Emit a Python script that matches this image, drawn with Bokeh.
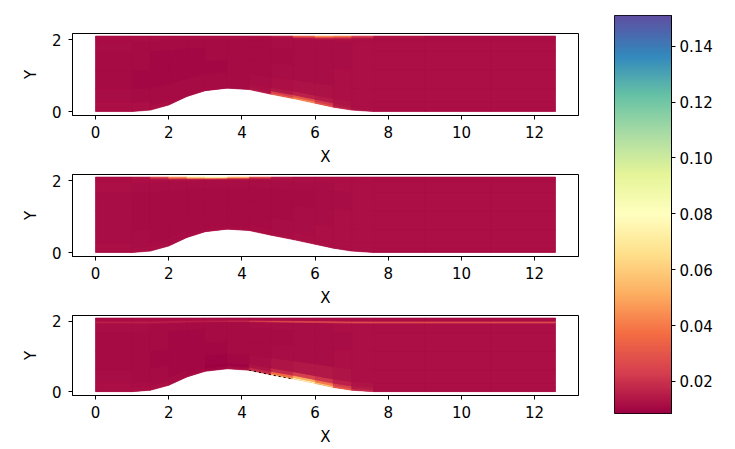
import numpy as np
from bokeh.plotting import figure
from bokeh.layouts import row, column
from bokeh.models import ColumnDataSource, LinearColorMapper, FixedTicker, PrintfTickFormatter, Range1d
from bokeh.embed import file_html
from bokeh.resources import INLINE

# ---------------- data ----------------
hill_x = [0.0, 1.0, 1.5, 2.0, 2.5, 3.0, 3.6, 4.2, 4.8, 5.4, 6.0, 6.5, 7.0, 7.6, 9.0, 10.8, 12.57]
hill_y = [0.0, 0.0, 0.04, 0.18, 0.42, 0.58, 0.65, 0.61, 0.48, 0.36, 0.23, 0.12, 0.04, 0.0, 0.0, 0.0, 0.0]
y_top = 2.1
eta = [0.0, 0.025, 0.06, 0.12, 0.3, 0.55, 0.8, 0.93, 0.955, 0.975, 0.99, 1.0]

x_ticks = [0, 2, 4, 6, 8, 10, 12]
y_ticks = [0, 2]
cb_ticks = [0.02, 0.04, 0.06, 0.08, 0.10, 0.12, 0.14]
v_min, v_max = 0.0085, 0.151
base_values = [0.0115, 0.0115, 0.0115]

# rows: bottom (at hill) -> top wall ; columns: between consecutive hill_x stations
field_a = [
    [0.012, 0.012, 0.012, 0.012, 0.012, 0.011, 0.011, 0.015, 0.034, 0.044, 0.030, 0.017, 0.013, 0.012, 0.012, 0.012],
    [0.012, 0.012, 0.012, 0.011, 0.011, 0.011, 0.011, 0.013, 0.024, 0.030, 0.022, 0.014, 0.012, 0.012, 0.012, 0.012],
    [0.012, 0.012, 0.011, 0.011, 0.011, 0.011, 0.011, 0.012, 0.014, 0.016, 0.015, 0.013, 0.012, 0.012, 0.012, 0.012],
    [0.0115, 0.011, 0.011, 0.011, 0.011, 0.011, 0.011, 0.0115, 0.012, 0.0125, 0.0125, 0.012, 0.012, 0.012, 0.012, 0.012],
    [0.011, 0.0105, 0.0105, 0.0105, 0.0105, 0.0105, 0.011, 0.011, 0.0115, 0.0115, 0.0115, 0.012, 0.012, 0.012, 0.012, 0.012],
    [0.011, 0.011, 0.0105, 0.0105, 0.0105, 0.011, 0.011, 0.011, 0.011, 0.0115, 0.0115, 0.0115, 0.012, 0.012, 0.012, 0.012],
    [0.0115, 0.011, 0.011, 0.011, 0.011, 0.011, 0.011, 0.011, 0.0115, 0.0115, 0.0115, 0.0115, 0.012, 0.012, 0.012, 0.012],
    [0.0115, 0.0115, 0.0115, 0.0115, 0.0115, 0.0115, 0.0115, 0.0115, 0.012, 0.012, 0.012, 0.012, 0.012, 0.012, 0.012, 0.012],
    [0.012, 0.012, 0.012, 0.012, 0.012, 0.012, 0.012, 0.012, 0.012, 0.014, 0.016, 0.015, 0.013, 0.012, 0.012, 0.012],
    [0.012, 0.012, 0.012, 0.012, 0.012, 0.012, 0.012, 0.012, 0.014, 0.022, 0.030, 0.027, 0.018, 0.013, 0.012, 0.012],
    [0.012, 0.012, 0.012, 0.012, 0.012, 0.012, 0.012, 0.013, 0.016, 0.032, 0.046, 0.040, 0.024, 0.014, 0.012, 0.012],
]
field_b = [
    [0.012, 0.012, 0.012, 0.012, 0.012, 0.012, 0.012, 0.012, 0.0125, 0.013, 0.0125, 0.012, 0.012, 0.012, 0.012, 0.012],
    [0.012, 0.012, 0.012, 0.0115, 0.0115, 0.0115, 0.0115, 0.012, 0.012, 0.012, 0.012, 0.012, 0.012, 0.012, 0.012, 0.012],
    [0.012, 0.0115, 0.0115, 0.0115, 0.011, 0.011, 0.011, 0.0115, 0.0115, 0.012, 0.012, 0.012, 0.012, 0.012, 0.012, 0.012],
    [0.0115, 0.0115, 0.011, 0.011, 0.011, 0.011, 0.011, 0.011, 0.0115, 0.0115, 0.012, 0.012, 0.012, 0.012, 0.012, 0.012],
    [0.0115, 0.011, 0.011, 0.011, 0.011, 0.011, 0.011, 0.011, 0.011, 0.0115, 0.0115, 0.012, 0.012, 0.012, 0.012, 0.012],
    [0.0115, 0.011, 0.011, 0.011, 0.011, 0.011, 0.011, 0.011, 0.011, 0.011, 0.0115, 0.0115, 0.012, 0.012, 0.012, 0.012],
    [0.012, 0.0115, 0.0115, 0.0115, 0.0115, 0.0115, 0.0115, 0.0115, 0.0115, 0.0115, 0.0115, 0.012, 0.012, 0.012, 0.012, 0.012],
    [0.012, 0.012, 0.012, 0.012, 0.012, 0.012, 0.012, 0.012, 0.012, 0.012, 0.012, 0.012, 0.012, 0.012, 0.012, 0.012],
    [0.012, 0.012, 0.0125, 0.014, 0.016, 0.017, 0.015, 0.013, 0.012, 0.012, 0.012, 0.012, 0.012, 0.012, 0.012, 0.012],
    [0.012, 0.013, 0.018, 0.030, 0.042, 0.046, 0.034, 0.019, 0.013, 0.012, 0.012, 0.012, 0.012, 0.012, 0.012, 0.012],
    [0.012, 0.014, 0.026, 0.045, 0.066, 0.075, 0.054, 0.028, 0.015, 0.012, 0.012, 0.012, 0.012, 0.012, 0.012, 0.012],
]
field_c = [
    [0.012, 0.012, 0.012, 0.012, 0.012, 0.011, 0.013, 0.024, 0.050, 0.075, 0.058, 0.032, 0.018, 0.012, 0.012, 0.012],
    [0.012, 0.012, 0.012, 0.011, 0.011, 0.010, 0.011, 0.018, 0.036, 0.052, 0.040, 0.024, 0.015, 0.012, 0.012, 0.012],
    [0.012, 0.0115, 0.011, 0.011, 0.0105, 0.009, 0.0095, 0.013, 0.019, 0.024, 0.021, 0.016, 0.013, 0.012, 0.012, 0.012],
    [0.0115, 0.011, 0.011, 0.0105, 0.0105, 0.0095, 0.0105, 0.0115, 0.013, 0.014, 0.014, 0.013, 0.012, 0.012, 0.012, 0.012],
    [0.011, 0.011, 0.0105, 0.0105, 0.0105, 0.0105, 0.011, 0.011, 0.0115, 0.0115, 0.0115, 0.012, 0.012, 0.012, 0.012, 0.012],
    [0.011, 0.011, 0.011, 0.0105, 0.0105, 0.011, 0.011, 0.011, 0.011, 0.0115, 0.0115, 0.0115, 0.012, 0.012, 0.012, 0.012],
    [0.0115, 0.0115, 0.011, 0.011, 0.011, 0.011, 0.011, 0.0115, 0.0115, 0.0115, 0.0115, 0.012, 0.012, 0.012, 0.012, 0.012],
    [0.016, 0.016, 0.016, 0.016, 0.016, 0.017, 0.019, 0.024, 0.026, 0.027, 0.027, 0.027, 0.027, 0.027, 0.027, 0.027],
    [0.012, 0.012, 0.012, 0.012, 0.012, 0.012, 0.012, 0.012, 0.012, 0.012, 0.012, 0.012, 0.012, 0.012, 0.012, 0.012],
    [0.0115, 0.0115, 0.0115, 0.0115, 0.0115, 0.0115, 0.0115, 0.0115, 0.0115, 0.0115, 0.0115, 0.0115, 0.0115, 0.0115, 0.0115, 0.0115],
    [0.011, 0.011, 0.011, 0.011, 0.011, 0.011, 0.011, 0.011, 0.011, 0.011, 0.011, 0.011, 0.011, 0.011, 0.011, 0.011],
]

spectral = ["#9e0142", "#d53e4f", "#f46d43", "#fdae61", "#fee08b", "#ffffbf",
            "#e6f598", "#abdda4", "#66c2a5", "#3288bd", "#5e4fa2"]

# ---------------- palette ----------------
def hex2rgb(h):
    h = h.lstrip("#")
    return [int(h[k:k + 2], 16) for k in (0, 2, 4)]

rgb = np.array([hex2rgb(c) for c in spectral], dtype=float)
stops = np.linspace(0, 1, len(spectral))
tt = np.linspace(0, 1, 256)
palette = ["#%02x%02x%02x" % tuple(int(round(np.interp(t, stops, rgb[:, k]))) for k in range(3)) for t in tt]
mapper = LinearColorMapper(palette=palette, low=v_min, high=v_max)
cmap = {"field": "v", "transform": mapper}

FONT = "DejaVu Sans"
FS = "15px"


def cells(field):
    xs, ys, vs = [], [], []
    for j in range(len(eta) - 1):
        for i in range(len(hill_x) - 1):
            x0, x1 = hill_x[i], hill_x[i + 1]
            b0, b1 = hill_y[i], hill_y[i + 1]
            ya0 = b0 + eta[j] * (y_top - b0)
            ya1 = b1 + eta[j] * (y_top - b1)
            yb0 = b0 + eta[j + 1] * (y_top - b0)
            yb1 = b1 + eta[j + 1] * (y_top - b1)
            xs.append([x0, x1, x1, x0])
            ys.append([ya0, ya1, yb1, yb0])
            vs.append(field[j][i])
    return ColumnDataSource(dict(xs=xs, ys=ys, v=vs))


def domain(base):
    xs = list(hill_x) + list(reversed(hill_x))
    ys = list(hill_y) + [y_top] * len(hill_x)
    return ColumnDataSource(dict(xs=[xs], ys=[ys], v=[base]))


def style_axis(ax, s1, s2, label):
    ax.axis_label = label
    ax.axis_label_text_font = FONT
    ax.axis_label_text_font_size = FS
    ax.axis_label_text_font_style = "normal"
    ax.axis_label_text_color = "black"
    ax.axis_label_standoff = s2
    ax.major_label_text_font = FONT
    ax.major_label_text_font_size = FS
    ax.major_label_text_color = "black"
    ax.major_label_standoff = s1
    ax.major_tick_in = 0
    ax.major_tick_out = 4
    ax.minor_tick_line_color = None
    ax.axis_line_color = "black"
    ax.major_tick_line_color = "black"


def panel(field, base, h, top, bottom, dotted=False):
    p = figure(width=588, height=h, x_range=Range1d(-0.63, 13.2), y_range=Range1d(-0.11, 2.17),
               output_backend="svg", toolbar_location=None,
               min_border_left=72, min_border_right=10, min_border_top=top, min_border_bottom=bottom)
    p.grid.visible = False
    p.outline_line_color = "black"
    p.outline_line_alpha = 1
    p.outline_line_width = 1
    p.background_fill_color = "white"
    p.border_fill_color = "white"
    p.patches("xs", "ys", source=domain(base), fill_color=cmap, line_color=None)
    p.patches("xs", "ys", source=cells(field), fill_color=cmap, line_color=cmap, line_width=0.6)
    if dotted:
        p.line(hill_x[7:10], hill_y[7:10], line_color="black", line_dash="2 3", line_width=1)
    p.xaxis.ticker = FixedTicker(ticks=x_ticks)
    p.yaxis.ticker = FixedTicker(ticks=y_ticks)
    style_axis(p.xaxis[0], 6, 7, "X")
    style_axis(p.yaxis[0], 7, 9, "Y")
    return p


f1 = panel(field_a, base_values[0], 169, 33, 54)
f2 = panel(field_b, base_values[1], 141, 5, 54)
f3 = panel(field_c, base_values[2], 138, 5, 51, dotted=True)

cb = figure(width=131, height=443, x_range=Range1d(0, 1), y_range=Range1d(v_min, v_max),
            y_axis_location="right", x_axis_location=None,
            output_backend="svg", toolbar_location=None,
            min_border_left=26, min_border_right=48, min_border_top=15, min_border_bottom=30)
cb.grid.visible = False
cb.outline_line_color = "black"
cb.outline_line_alpha = 1
cb.image(image=[np.linspace(v_min, v_max, 256).reshape(256, 1)], x=0, y=v_min, dw=1,
         dh=v_max - v_min, color_mapper=mapper)
cb.yaxis.ticker = FixedTicker(ticks=cb_ticks)
cb.yaxis.formatter = PrintfTickFormatter(format="%.2f")
style_axis(cb.yaxis[0], 4, 0, None)

layout = row(column(f1, f2, f3), cb)
open("out.html", "w").write(file_html(layout, INLINE))
